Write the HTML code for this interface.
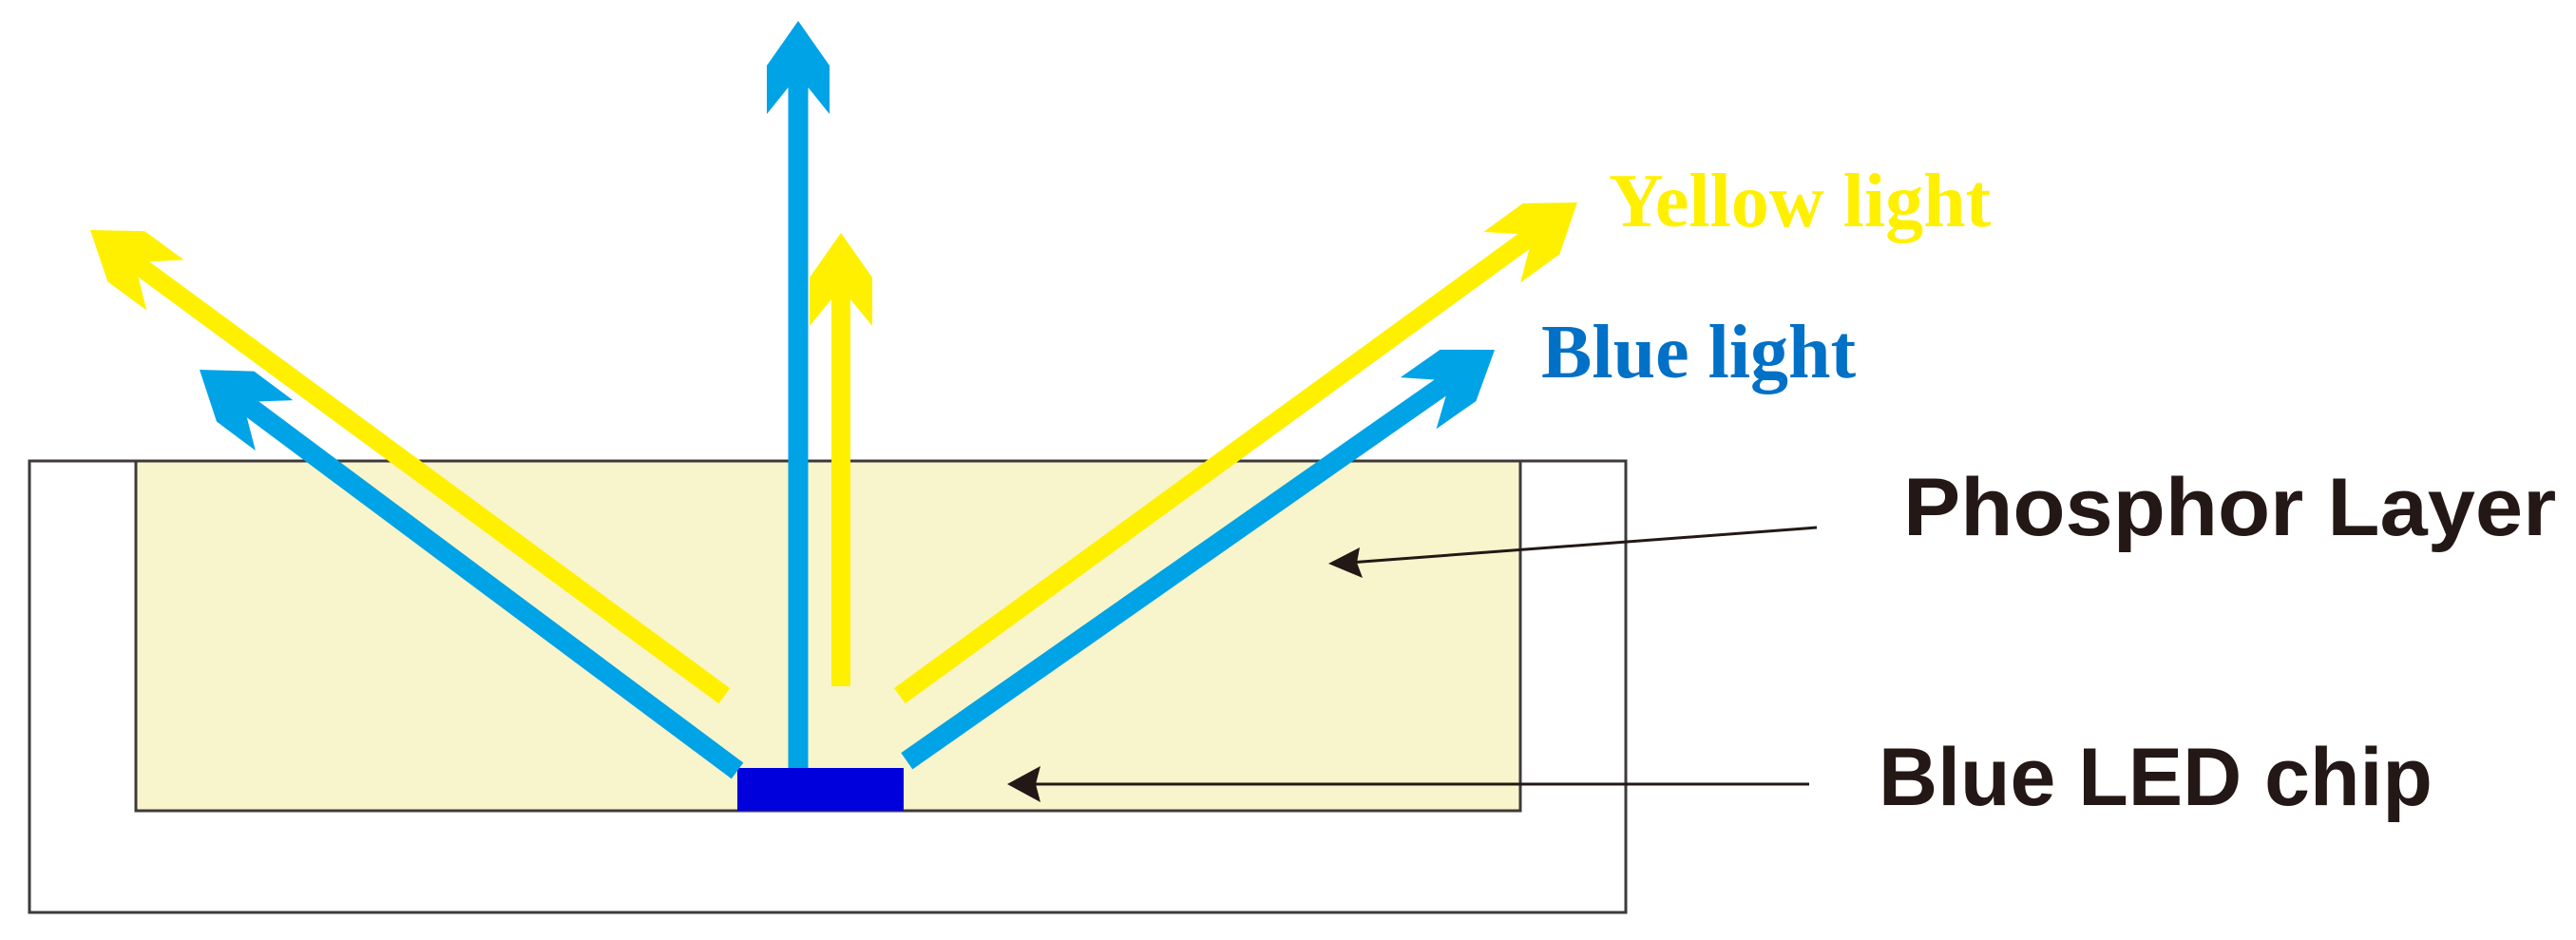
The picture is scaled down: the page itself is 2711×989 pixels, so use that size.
<!DOCTYPE html>
<html><head><meta charset="utf-8"><style>
html,body{margin:0;padding:0;background:#fff;}
svg{display:block;}
</style></head><body>
<svg width="2711" height="989" viewBox="0 0 2711 989" xmlns="http://www.w3.org/2000/svg">
<defs>
<g id="hb"><polygon points="0,0 -47,-33 -98,-33 -70,-10.5 -70,10.5 -98,33 -47,33" fill="#00a3e6"/></g>
<g id="hy"><polygon points="0,0 -47,-33 -98,-33 -70,-10 -70,10 -98,33 -47,33" fill="#fff000"/></g>
</defs>
<rect x="31" y="485" width="1680" height="475" fill="#fff" stroke="#3e3a39" stroke-width="3"/>
<rect x="143" y="485" width="1457" height="368" fill="#f8f4cc" stroke="#3e3a39" stroke-width="3"/>
<rect x="776" y="808" width="175" height="45" fill="#0000dc"/>

<g transform="translate(840,22) rotate(-90)"><rect x="-786" y="-10.5" width="720" height="21" fill="#00a3e6"/><use href="#hb"/></g>
<g transform="translate(885,245) rotate(-90)"><rect x="-477" y="-10" width="410" height="20" fill="#fff000"/><use href="#hy"/></g>
<g transform="translate(95,242) rotate(-143.7)"><rect x="-828" y="-10" width="762" height="20" fill="#fff000"/><use href="#hy"/></g>
<g transform="translate(210,389) rotate(-143.3)"><rect x="-706" y="-10.5" width="640" height="21" fill="#00a3e6"/><use href="#hb"/></g>
<g transform="translate(1660,213) rotate(-36.05)"><rect x="-882" y="-10" width="816" height="20" fill="#fff000"/><use href="#hy"/></g>
<g transform="translate(1573,368) rotate(-34.97)"><rect x="-755" y="-10.5" width="690" height="21" fill="#00a3e6"/><use href="#hb"/></g>

<line x1="1912" y1="555" x2="1420" y2="592" stroke="#231815" stroke-width="3"/>
<polygon points="1398,593 1431,576 1428,592 1434,608" fill="#231815"/>
<line x1="1904" y1="825" x2="1080" y2="825" stroke="#231815" stroke-width="3"/>
<polygon points="1060,825 1095,806 1090,825 1095,844" fill="#231815"/>

<text x="1693" y="238" font-family="Liberation Serif, serif" font-weight="bold" font-size="80" fill="#fff000">Yellow light</text>
<text x="1622" y="397" font-family="Liberation Serif, serif" font-weight="bold" font-size="80" fill="#0071c6">Blue light</text>
<text transform="translate(2003,563) scale(1.05,1)" font-family="Liberation Sans, sans-serif" font-weight="bold" font-size="86" fill="#231815">Phosphor Layer</text>
<text transform="translate(1977,847)" font-family="Liberation Sans, sans-serif" font-weight="bold" font-size="86" fill="#231815">Blue LED chip</text>
</svg>
</body></html>
